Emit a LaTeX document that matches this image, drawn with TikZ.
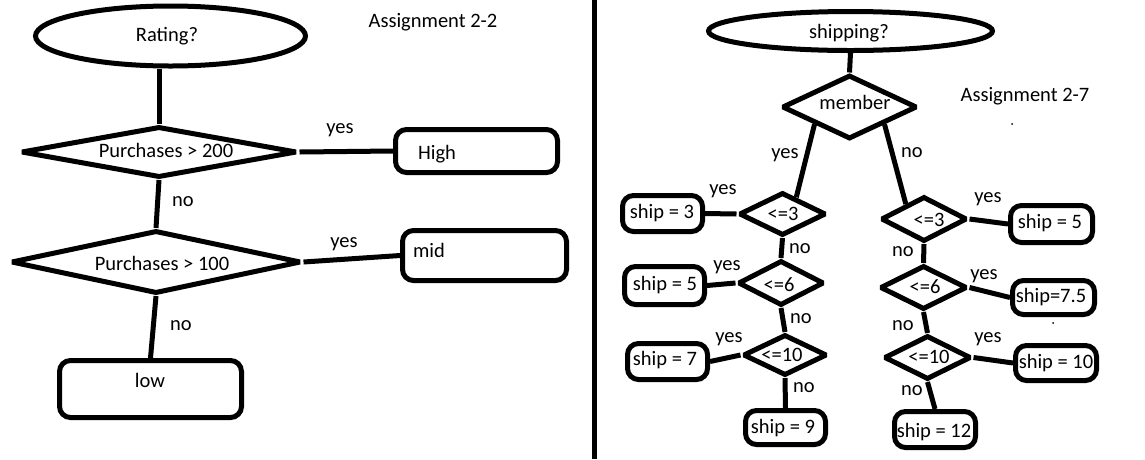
\documentclass[tikz,border=0pt]{standalone}
\usepackage{fontspec}
\setmainfont{Carlito}
\usetikzlibrary{shapes.geometric,calc}
\begin{document}
\begin{tikzpicture}[x=1pt,y=-1pt,
  every node/.style={font=\fontsize{20.5}{24}\selectfont, inner sep=0pt},
  ln/.style={line width=5pt},
  ell/.style={ellipse, draw, line width=5pt},
  dia/.style={diamond, draw, line width=5pt, line join=miter, miter limit=2},
  rbox/.style={rectangle, draw, line width=5pt, rounded corners=11pt},
  txt/.style={anchor=center},
]
\useasboundingbox (0,0) rectangle (1145,459);

% ---------------- Left: Assignment 2-2 ----------------
\node[ell, minimum width=270pt, minimum height=60pt] (E1) at (170.5,36) {};
\node[txt] (tE1) at (167,36) {Rating?};
\node[txt] (a22) at (433,22) {Assignment 2-2};

\node[dia, minimum width=276pt, minimum height=51pt] (D1) at (159,152) {};
\node[txt] (tD1) at (166,150) {Purchases > 200};
\node[rbox, minimum width=162pt, minimum height=43pt] (high) at (476.5,151) {};
\node[txt] (thigh) at (437,154) {High};

\node[dia, minimum width=290pt, minimum height=63pt] (D2) at (156,262) {};
\node[txt] (tD2) at (162,263) {Purchases > 100};
\node[rbox, minimum width=164pt, minimum height=50pt] (mid) at (484.5,255.5) {};
\node[txt] (tmid) at (429,250) {mid};

\node[rbox, minimum width=182pt, minimum height=57pt] (low) at (150.5,389) {};
\node[txt] (tlow) at (150,380) {low};

\draw[ln] (D1.north |- E1.south) -- (D1.north);
\draw[ln] (D1.east) -- (high.west);
\node[txt] (y1) at (340,130) {yes};
\draw[ln] (D1.south) -- (D2.north);
\node[txt] (n1) at (183,202) {no};
\draw[ln] (D2.east) -- (mid.west);
\node[txt] (y2) at (344,244) {yes};
\draw[ln] (D2.south) -- (low.north);
\node[txt] (n2) at (181,326) {no};

% divider
\coordinate (divT) at (594,0);
\coordinate (divB) at (594,459);
\draw[ln] (divT) -- (divB);

% ---------------- Right: Assignment 2-7 ----------------
\node[ell, minimum width=284pt, minimum height=39pt] (E2) at (850.5,31) {};
\node[txt] (tE2) at (849,33) {shipping?};
\node[dia, minimum width=135pt, minimum height=64pt] (M) at (849.5,107) {};
\node[txt] (tM) at (855,102) {member};
\node[txt] (a27) at (1025,96) {Assignment 2-7};
\draw[ln] (E2.south) -- (M.north);

% left column
\node[dia, minimum width=87pt, minimum height=43pt] (L1) at (782.5,214) {};
\node[txt] (tL1) at (783,214) {<=3};
\node[rbox, minimum width=80pt, minimum height=36pt] (s3) at (662.5,213.5) {};
\node[txt] (ts3) at (662,213) {ship = 3};

\node[dia, minimum width=86pt, minimum height=45pt] (L2) at (781,283) {};
\node[txt] (tL2) at (779,285) {<=6};
\node[rbox, minimum width=80pt, minimum height=38pt] (s5a) at (664.5,285.5) {};
\node[txt] (ts5a) at (665,285) {ship = 5};

\node[dia, minimum width=84pt, minimum height=41pt] (L3) at (785,355) {};
\node[txt] (tL3) at (782,355) {<=10};
\node[rbox, minimum width=80pt, minimum height=36pt] (s7) at (667.5,361.5) {};
\node[txt] (ts7) at (665,360) {ship = 7};

\node[rbox, minimum width=80pt, minimum height=34pt] (s9) at (785.5,427.5) {};
\node[txt] (ts9) at (783,428) {ship = 9};

% right column
\node[dia, minimum width=86pt, minimum height=45pt] (R1) at (924,219) {};
\node[txt] (tR1) at (929,220) {<=3};
\node[rbox, minimum width=82pt, minimum height=37pt] (s5b) at (1051.5,224) {};
\node[txt] (ts5b) at (1050,223) {ship = 5};

\node[dia, minimum width=87pt, minimum height=44pt] (R2) at (923.5,287.5) {};
\node[txt] (tR2) at (925,287) {<=6};
\node[rbox, minimum width=82pt, minimum height=34pt] (s75) at (1053.5,297.5) {};
\node[txt] (ts75) at (1051,297) {ship=7.5};

\node[dia, minimum width=87pt, minimum height=44pt] (R3) at (927.5,357.5) {};
\node[txt] (tR3) at (929,357) {<=10};
\node[rbox, minimum width=81pt, minimum height=35pt] (s10) at (1056,363) {};
\node[txt] (ts10) at (1056,363) {ship = 10};

\node[rbox, minimum width=81pt, minimum height=36pt] (s12) at (935,429.5) {};
\node[txt] (ts12) at (934,432) {ship = 12};

% member branches
\draw[ln] ($(M.west)!0.5!(M.south)$) -- ($(L1.north)!0.3!(L1.east)$);
\node[txt] (ym) at (785,155) {yes};
\draw[ln] ($(M.east)!0.5!(M.south)$) -- ($(R1.north)!0.4!(R1.west)$);
\node[txt] (nm) at (912,153) {no};

% left column connectors
\draw[ln] (L1.west) -- (s3.east);
\node[txt] (yL1) at (723,191) {yes};
\draw[ln] (L1.south) -- (L2.north);
\node[txt] (nL1) at (800,249) {no};
\draw[ln] (L2.west) -- (s5a.east);
\node[txt] (yL2) at (727,267) {yes};
\draw[ln] (L2.south) -- (L3.north);
\node[txt] (nL2) at (801,319) {no};
\draw[ln] (L3.west) -- (s7.east);
\node[txt] (yL3) at (729,339) {yes};
\draw[ln] (L3.south) -- (s9.north);
\node[txt] (nL3) at (804,388) {no};

% right column connectors
\draw[ln] (R1.east) -- (s5b.west);
\node[txt] (yR1) at (988,199) {yes};
\draw[ln] (R1.south) -- (R2.north);
\node[txt] (nR1) at (903,252) {no};
\draw[ln] (R2.east) -- (s75.west);
\node[txt] (yR2) at (984,276) {yes};
\draw[ln] (R2.south) -- (R3.north);
\node[txt] (nR2) at (903,326) {no};
\draw[ln] (R3.east) -- (s10.west);
\node[txt] (yR3) at (988,339) {yes};
\draw[ln] (R3.south) -- (s12.north);
\node[txt] (nR3) at (912,391) {no};

% stray specks
\fill (1012,124) circle (1pt);
\fill (1053,323) circle (1pt);
\end{tikzpicture}
\end{document}
